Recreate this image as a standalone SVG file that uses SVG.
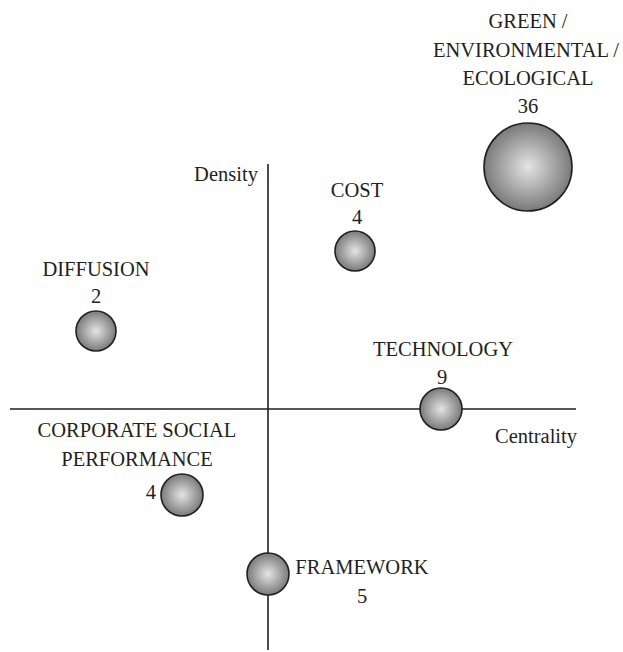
<svg xmlns="http://www.w3.org/2000/svg" width="623" height="652" viewBox="0 0 623 652">
<defs>
<radialGradient id="g" cx="50%" cy="50%" r="50%">
<stop offset="0" stop-color="#e4e4e4"/>
<stop offset="1" stop-color="#7a7a7a"/>
</radialGradient>
<style>
text{font-family:'Liberation Serif','Times New Roman',serif;font-size:20.5px;fill:#231f20;text-anchor:middle}
.b{fill:url(#g);stroke:#231f20;stroke-width:1.6}
.ax{stroke:#231f20;stroke-width:1.6}
</style>
</defs>
<rect width="623" height="652" fill="#fff"/>
<g id="axes">
<line class="ax" x1="268" y1="164" x2="268" y2="650"/>
<line class="ax" x1="10" y1="409" x2="576" y2="409"/>
<text x="226" y="181">Density</text>
<text x="536" y="443">Centrality</text>
</g>
<g id="green">
<circle class="b" cx="528" cy="167" r="44"/>
<text x="528" y="28">GREEN /</text>
<text x="526" y="57">ENVIRONMENTAL /</text>
<text x="528" y="85">ECOLOGICAL</text>
<text x="528" y="113">36</text>
</g>
<g id="cost">
<circle class="b" cx="355" cy="251" r="20"/>
<text x="357" y="197">COST</text>
<text x="357" y="224">4</text>
</g>
<g id="diffusion">
<circle class="b" cx="96" cy="331" r="20"/>
<text x="96" y="276">DIFFUSION</text>
<text x="96" y="303">2</text>
</g>
<g id="technology">
<circle class="b" cx="441" cy="409" r="21"/>
<text x="443" y="356">TECHNOLOGY</text>
<text x="442" y="384">9</text>
</g>
<g id="csp">
<circle class="b" cx="182" cy="495" r="21"/>
<text x="137" y="437">CORPORATE SOCIAL</text>
<text x="137" y="466">PERFORMANCE</text>
<text x="156" y="499" style="text-anchor:end">4</text>
</g>
<g id="framework">
<circle class="b" cx="268" cy="574" r="21"/>
<text x="362" y="574">FRAMEWORK</text>
<text x="362" y="603">5</text>
</g>
</svg>
